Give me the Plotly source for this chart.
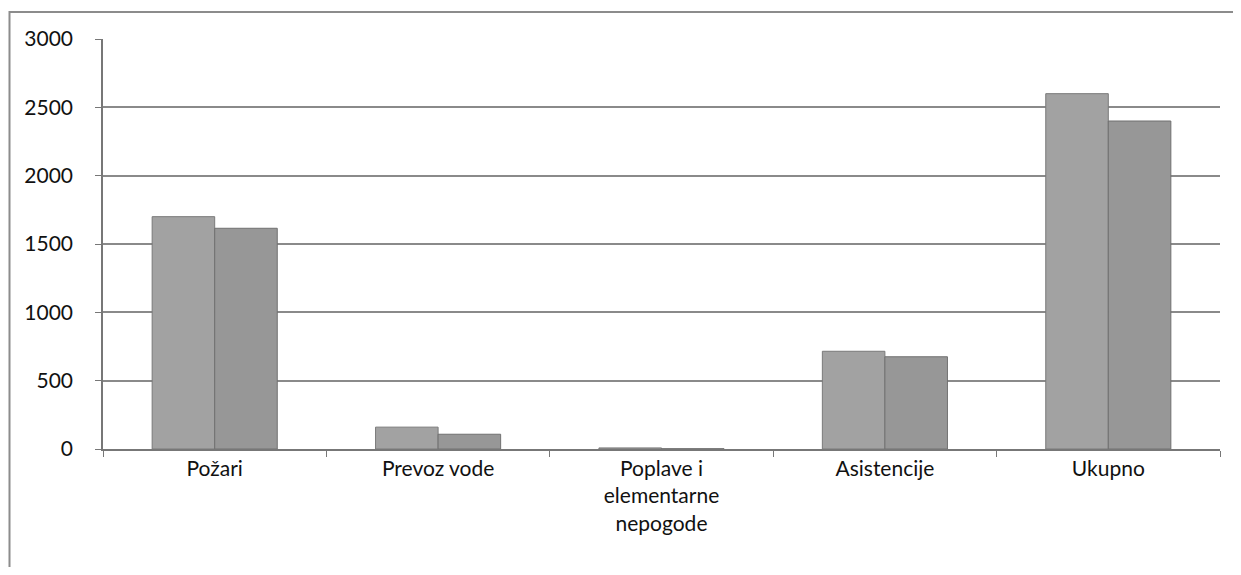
import plotly.graph_objects as go

categories = ["Požari", "Prevoz vode", "Poplave i<br>elementarne<br>nepogode", "Asistencije", "Ukupno"]
series_a = [1700, 160, 8, 715, 2600]
series_b = [1615, 108, 2, 675, 2400]

fig = go.Figure()
fig.add_trace(go.Bar(x=categories, y=series_a, name="A",
                     marker=dict(color="#a2a2a2", line=dict(color="#7a7a7a", width=1))))
fig.add_trace(go.Bar(x=categories, y=series_b, name="B",
                     marker=dict(color="#979797", line=dict(color="#707070", width=1))))

# figure sits at an 8px body offset in the page
W, H = 1225, 559
L, R, T, B = 95, 13, 31, 118
pw, ph = W - L - R, H - T - B

def px_x(x):
    return (x - L) / pw

def px_y(y):
    return (H - B - y) / ph

frame = dict(color="#8c8c8c", width=2)
fig.update_layout(
    width=W, height=H,
    margin=dict(l=L, r=R, t=T, b=B),
    paper_bgcolor="white", plot_bgcolor="white",
    barmode="group", bargap=0.44, bargroupgap=0,
    showlegend=False,
    font=dict(family="Lato, Open Sans, sans-serif", size=21, color="#111"),
    xaxis=dict(showline=True, linecolor="#777", linewidth=1.5,
               ticks="outside", ticklen=6, tickcolor="#777",
               tickson="boundaries", showgrid=False),
    yaxis=dict(range=[0, 3000], dtick=500, showline=True, linecolor="#777", linewidth=1.5,
               showgrid=True, gridcolor="#8a8a8a", gridwidth=1.5,
               ticks="outside", ticklen=6, tickcolor="#777", zeroline=False,
               ticklabelstandoff=18),
    shapes=[
        dict(type="line", xref="paper", yref="paper", layer="above",
             x0=px_x(1), x1=px_x(W), y0=px_y(4), y1=px_y(4), line=frame),
        dict(type="line", xref="paper", yref="paper", layer="above",
             x0=px_x(1.5), x1=px_x(1.5), y0=px_y(3), y1=px_y(H), line=frame),
    ],
)
fig.write_html("out.html")
